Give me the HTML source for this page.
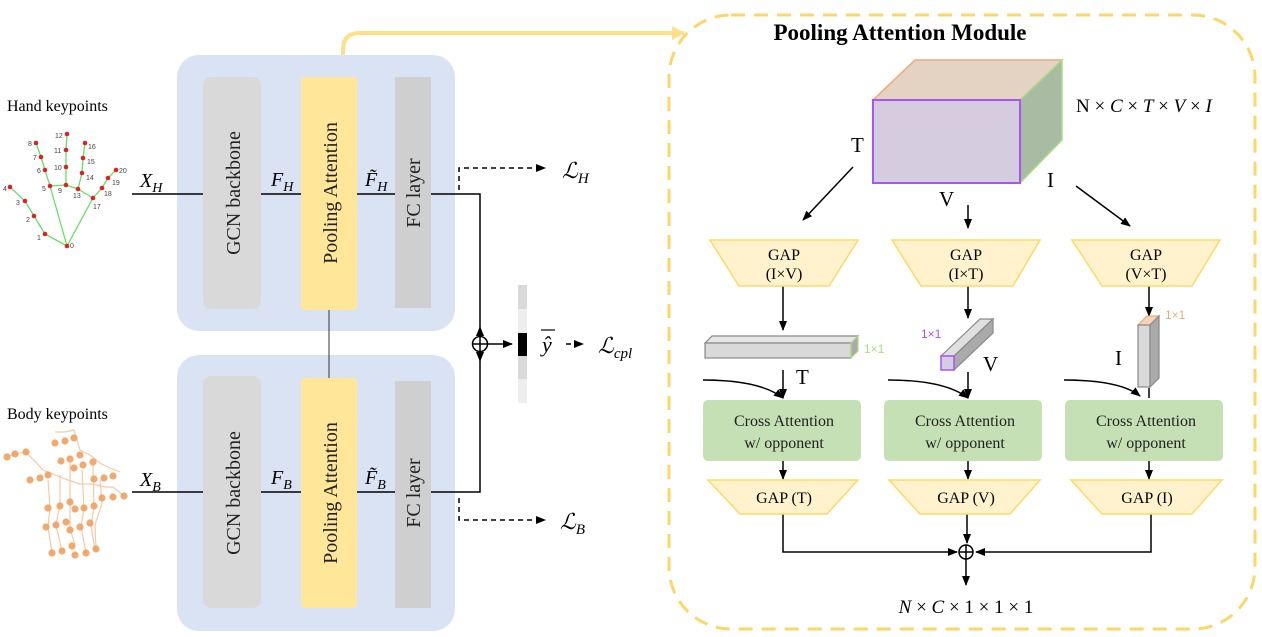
<!DOCTYPE html>
<html><head><meta charset="utf-8"><style>
html,body{margin:0;padding:0;background:#fff;}
svg{display:block;font-family:"Liberation Serif",serif;}
</style></head><body>
<svg width="1262" height="637" viewBox="0 0 1262 637" xmlns="http://www.w3.org/2000/svg">
<defs>
<marker id="a" markerWidth="10" markerHeight="8" refX="9" refY="4" orient="auto" markerUnits="userSpaceOnUse"><path d="M0,0 L10,4 L0,8 z" fill="#000"/></marker>
<marker id="ay" markerWidth="14" markerHeight="14" refX="12" refY="7" orient="auto" markerUnits="userSpaceOnUse"><path d="M0,0 L13,7 L0,14 z" fill="#ffe08a"/></marker>
</defs>

<!-- module border -->
<rect x="669" y="15" width="586" height="614" rx="62" fill="none" stroke="#fcd767" stroke-width="3" stroke-dasharray="14,9"/>
<path d="M343,76 V50 Q343,33 360,33 H684" fill="none" stroke="#ffe08a" stroke-width="4" marker-end="url(#ay)"/>

<!-- left panels -->
<rect x="177" y="55" width="278" height="276" rx="22" fill="#dae3f3"/>
<rect x="177" y="355" width="278" height="276" rx="22" fill="#dae3f3"/>
<line x1="329" y1="310" x2="329" y2="378" stroke="#333" stroke-width="1"/>
<rect x="203" y="77" width="58" height="232" rx="8" fill="#d9d9d9"/>
<rect x="301" y="77" width="56" height="233" rx="4" fill="#ffe699"/>
<rect x="395" y="77" width="36" height="231" fill="#cfcfcf"/>
<rect x="203" y="376" width="58" height="232" rx="8" fill="#d9d9d9"/>
<rect x="301" y="378" width="56" height="230" rx="4" fill="#ffe699"/>
<rect x="395" y="381" width="36" height="227" fill="#cfcfcf"/>
<g font-size="20" fill="#222" text-anchor="middle">
<text transform="translate(240,193) rotate(-90)">GCN  backbone</text>
<text transform="translate(337,193) rotate(-90)">Pooling Attention</text>
<text transform="translate(420,193) rotate(-90)">FC layer</text>
<text transform="translate(240,493) rotate(-90)">GCN  backbone</text>
<text transform="translate(337,493) rotate(-90)">Pooling Attention</text>
<text transform="translate(420,493) rotate(-90)">FC layer</text>
</g>

<!-- lines -->
<g stroke="#000" stroke-width="1.5" fill="none">
<path d="M132,194 H203 M261,194 H301 M357,194 H395 M431,194 H480 V336"/>
<path d="M132,492 H203 M261,492 H301 M357,492 H395 M431,492 H480 V352"/>
<circle cx="480" cy="344" r="7.5"/>
<path d="M472.5,344 H487.5 M480,336.5 V351.5"/>
<path d="M488,344 H512" marker-end="url(#a)"/>
</g>
<path d="M480,326 L476,336 L484,336z M480,362 L476,352 L484,352z" fill="#000"/>
<g stroke="#000" stroke-width="1.5" fill="none" stroke-dasharray="5,4">
<path d="M459,190 V168 H545" marker-end="url(#a)"/>
<path d="M459,498 V520 H545" marker-end="url(#a)"/>
<path d="M566,344 H583" marker-end="url(#a)"/>
</g>
<rect x="518" y="285" width="9" height="118" fill="#eeeeee"/>
<rect x="518" y="285" width="9" height="24" fill="#d9d9d9"/>
<rect x="518" y="356" width="9" height="23" fill="#d9d9d9"/>
<rect x="518" y="333" width="9" height="23" fill="#000"/>
<g font-size="20" font-style="italic" fill="#000">
<text x="140" y="187">X<tspan font-size="14" dy="5">H</tspan></text>
<text x="140" y="486">X<tspan font-size="14" dy="5">B</tspan></text>
<text x="271" y="186">F<tspan font-size="14" dy="5">H</tspan></text>
<text x="271" y="484">F<tspan font-size="14" dy="5">B</tspan></text>
<text x="365" y="186">F̃<tspan font-size="14" dy="5">H</tspan></text>
<text x="365" y="484">F̃<tspan font-size="14" dy="5">B</tspan></text>
<text x="562" y="178" font-size="22">ℒ<tspan font-size="15" dy="5">H</tspan></text>
<text x="560" y="529" font-size="22">ℒ<tspan font-size="15" dy="5">B</tspan></text>
<text x="598" y="353" font-size="22">ℒ<tspan font-size="15" dy="5">cpl</tspan></text>
<text x="542" y="352" font-size="22">ŷ</text>
</g>
<line x1="541" y1="330" x2="555" y2="330" stroke="#000" stroke-width="1.2"/>

<text x="7" y="111" font-size="16">Hand keypoints</text>
<text x="7" y="419" font-size="16">Body keypoints</text>

<!-- hand -->
<g stroke="#66e066" stroke-width="1.3" fill="none">
<polyline points="67,246 45,234 34,216 25,201 10,187"/>
<polyline points="67,246 50,186 45,170 41,157 36,143"/>
<polyline points="50,186 66,185 78,189 93,198"/>
<polyline points="66,185 66,167 66,150 67,134"/>
<polyline points="78,189 82,173 83,158 85,143"/>
<polyline points="67,246 93,198 102,188 108,178 116,170"/>
</g>
<g fill="#e02020">
<circle cx="67" cy="246" r="2.3"/><circle cx="45" cy="234" r="2.3"/><circle cx="34" cy="216" r="2.3"/><circle cx="25" cy="201" r="2.3"/><circle cx="10" cy="187" r="2.3"/><circle cx="50" cy="186" r="2.3"/><circle cx="45" cy="170" r="2.3"/><circle cx="41" cy="157" r="2.3"/><circle cx="36" cy="143" r="2.3"/><circle cx="66" cy="185" r="2.3"/><circle cx="66" cy="167" r="2.3"/><circle cx="66" cy="150" r="2.3"/><circle cx="67" cy="134" r="2.3"/><circle cx="78" cy="189" r="2.3"/><circle cx="82" cy="173" r="2.3"/><circle cx="83" cy="158" r="2.3"/><circle cx="85" cy="143" r="2.3"/><circle cx="93" cy="198" r="2.3"/><circle cx="102" cy="188" r="2.3"/><circle cx="108" cy="178" r="2.3"/><circle cx="116" cy="170" r="2.3"/>
</g>
<g font-size="7" fill="#444" font-family="Liberation Sans,sans-serif">
<text x="70" y="248">0</text><text x="37" y="240">1</text><text x="26" y="222">2</text><text x="16" y="205">3</text><text x="3" y="191">4</text><text x="42" y="191">5</text><text x="37" y="173">6</text><text x="33" y="160">7</text><text x="28" y="146">8</text><text x="58" y="193">9</text><text x="54" y="170">10</text><text x="54" y="153">11</text><text x="55" y="138">12</text><text x="73" y="198">13</text><text x="86" y="180">14</text><text x="87" y="164">15</text><text x="88" y="149">16</text><text x="93" y="209">17</text><text x="104" y="196">18</text><text x="112" y="185">19</text><text x="119" y="173">20</text>
</g>

<!-- body -->
<g stroke="#f7c9a6" stroke-width="1.2" fill="none">
<polyline points="7,457 15,454 26,452 43,470 55,475 68,480 80,484 90,484 97,485 105,487 113,487 124,496"/>
<polyline points="55,432 65,432 74,430 80,450 90,455 100,463 110,468 120,472"/>
<polyline points="48,480 50,508 48,527 52,553"/>
<polyline points="60,475 60,504 56,525 62,551"/>
<polyline points="70,462 70,500 70,528 75,545"/>
<polyline points="82,470 84,508 81,527 86,553"/>
<polyline points="93,465 94,507 91,525 95,550"/>
<polyline points="100,480 102,503 95,525 96,548"/>
</g>
<g fill="#f0a060" opacity="0.9">
<circle cx="7" cy="457" r="3.6"/><circle cx="15" cy="454" r="3.6"/><circle cx="26" cy="452" r="3.6"/><circle cx="30" cy="480" r="3.6"/><circle cx="40" cy="478" r="3.6"/><circle cx="48" cy="475" r="3.6"/><circle cx="55" cy="443" r="3.6"/><circle cx="65" cy="441" r="3.6"/><circle cx="74" cy="438" r="3.6"/><circle cx="61" cy="461" r="3.6"/><circle cx="70" cy="459" r="3.6"/><circle cx="80" cy="455" r="3.6"/><circle cx="74" cy="468" r="3.6"/><circle cx="83" cy="465" r="3.6"/><circle cx="93" cy="462" r="3.6"/><circle cx="94" cy="479" r="3.6"/><circle cx="104" cy="478" r="3.6"/><circle cx="113" cy="476" r="3.6"/><circle cx="102" cy="498" r="3.6"/><circle cx="113" cy="497" r="3.6"/><circle cx="124" cy="496" r="3.6"/><circle cx="48" cy="508" r="3.6"/><circle cx="60" cy="506" r="3.6"/><circle cx="70" cy="502" r="3.6"/><circle cx="75" cy="509" r="3.6"/><circle cx="84" cy="508" r="3.6"/><circle cx="94" cy="506" r="3.6"/><circle cx="46" cy="527" r="3.6"/><circle cx="56" cy="525" r="3.6"/><circle cx="66" cy="522" r="3.6"/><circle cx="70" cy="530" r="3.6"/><circle cx="80" cy="527" r="3.6"/><circle cx="90" cy="523" r="3.6"/><circle cx="52" cy="553" r="3.6"/><circle cx="62" cy="551" r="3.6"/><circle cx="72" cy="546" r="3.6"/><circle cx="75" cy="555" r="3.6"/><circle cx="86" cy="553" r="3.6"/><circle cx="96" cy="549" r="3.6"/>
</g>

<!-- module content -->
<text x="900" y="40" font-size="23" font-weight="bold" text-anchor="middle">Pooling Attention Module</text>
<polygon points="873,100 915,60 1062,60 1020,100" fill="#e4d2c3" stroke="#f0a878" stroke-width="1.5"/>
<polygon points="1020,100 1062,60 1062,140 1020,183" fill="#aabba3" stroke="#a8e080" stroke-width="1.5"/>
<rect x="873" y="100" width="147" height="83" fill="#d5ccdf" stroke="#a855f7" stroke-width="2"/>
<text x="1076" y="112" font-size="19">N × <tspan font-style="italic">C</tspan> × <tspan font-style="italic">T</tspan> × <tspan font-style="italic">V</tspan> × <tspan font-style="italic">I</tspan></text>
<g font-size="21">
<text x="851" y="152">T</text>
<text x="939" y="206">V</text>
<text x="1047" y="187">I</text>
</g>
<g stroke="#000" stroke-width="1.5" fill="none">
<path d="M853,167 L803,220" marker-end="url(#a)"/>
<path d="M968,205 V228" marker-end="url(#a)"/>
<path d="M1076,186 L1130,226" marker-end="url(#a)"/>
<path d="M783,286 V330" marker-end="url(#a)"/>
<path d="M968,286 V318" marker-end="url(#a)"/>
<path d="M1149,286 V316" marker-end="url(#a)"/>
<path d="M783,370 V398" marker-end="url(#a)"/>
<path d="M968,372 V398" marker-end="url(#a)"/>
<path d="M1149,388 V398"/>
<path d="M703,380 Q760,380 783,398" marker-end="url(#a)"/>
<path d="M888,380 Q945,380 968,398" marker-end="url(#a)"/>
<path d="M1064,380 Q1120,380 1140,396" marker-end="url(#a)"/>
<path d="M783,461 V479" marker-end="url(#a)"/>
<path d="M968,461 V479" marker-end="url(#a)"/>
<path d="M1149,461 V479" marker-end="url(#a)"/>
<path d="M783,514 V552 H957" marker-end="url(#a)"/>
<path d="M1151,514 V552 H976" marker-end="url(#a)"/>
<path d="M967,514 V543" marker-end="url(#a)"/>
<circle cx="966" cy="552" r="7"/>
<path d="M959,552 H973 M966,545 V559"/>
<path d="M966,559 V585" marker-end="url(#a)"/>
</g>
<!-- GAP top -->
<g fill="#fff2cc" stroke="#ffd966" stroke-width="1.5">
<polygon points="710,240 858,240 829,286 739,286"/>
<polygon points="892,240 1040,240 1013,286 921,286"/>
<polygon points="1072,240 1220,240 1192,286 1102,286"/>
<polygon points="708,480 858,480 827,514 740,514"/>
<polygon points="889,480 1040,480 1010,514 920,514"/>
<polygon points="1071,480 1222,480 1192,514 1102,514"/>
</g>
<g font-size="16" text-anchor="middle">
<text x="784" y="260">GAP</text><text x="784" y="279">(I×V)</text>
<text x="966" y="260">GAP</text><text x="966" y="279">(I×T)</text>
<text x="1146" y="260">GAP</text><text x="1146" y="279">(V×T)</text>
<text x="784" y="503">GAP (T)</text>
<text x="966" y="503">GAP (V)</text>
<text x="1147" y="503">GAP (I)</text>
</g>
<!-- bars -->
<polygon points="705,343 712,336 858,336 851,343" fill="#e6e6e6" stroke="#888" stroke-width="1.2"/>
<rect x="705" y="343" width="146" height="15" fill="#d9d9d9" stroke="#888" stroke-width="1.2"/>
<polygon points="851,343 858,336 858,351 851,358" fill="#aaa" stroke="#a8e080" stroke-width="1.2"/>
<text x="864" y="353" font-size="12" fill="#a8e080" font-family="Liberation Sans,sans-serif">1×1</text>

<polygon points="941,356 980,319 993,319 954,356" fill="#e0e0e0" stroke="#888" stroke-width="1.2"/>
<polygon points="954,356 993,319 993,333 954,370" fill="#aaa" stroke="#888" stroke-width="1.2"/>
<rect x="941" y="356" width="13" height="14" fill="#d5ccdf" stroke="#a855f7" stroke-width="1.5"/>
<text x="921" y="338" font-size="12" fill="#a855f7" font-family="Liberation Sans,sans-serif">1×1</text>
<text x="983" y="371" font-size="21">V</text>
<text x="796" y="384" font-size="21">T</text>

<polygon points="1138,325 1147,316 1159,316 1150,325" fill="#f4d4bc" stroke="#f0a878" stroke-width="1.2"/>
<rect x="1138" y="325" width="12" height="62" fill="#d9d9d9" stroke="#888" stroke-width="1.2"/>
<polygon points="1150,325 1159,316 1159,378 1150,387" fill="#aaa" stroke="#888" stroke-width="1.2"/>
<text x="1165" y="319" font-size="12" fill="#f0a878" font-family="Liberation Sans,sans-serif">1×1</text>
<text x="1115" y="365" font-size="21">I</text>

<!-- cross attention -->
<g fill="#c5e0b4">
<rect x="703" y="400" width="158" height="61" rx="5"/>
<rect x="884" y="400" width="158" height="61" rx="5"/>
<rect x="1065" y="400" width="158" height="61" rx="5"/>
</g>
<g font-size="16" text-anchor="middle" fill="#222">
<text x="784" y="426">Cross Attention</text><text x="784" y="448">w/ opponent</text>
<text x="965" y="426">Cross Attention</text><text x="965" y="448">w/ opponent</text>
<text x="1146" y="426">Cross Attention</text><text x="1146" y="448">w/ opponent</text>
</g>
<text x="966" y="613" font-size="19" text-anchor="middle"><tspan font-style="italic">N</tspan> × <tspan font-style="italic">C</tspan> × 1 × 1 × 1</text>
</svg>
</body></html>
